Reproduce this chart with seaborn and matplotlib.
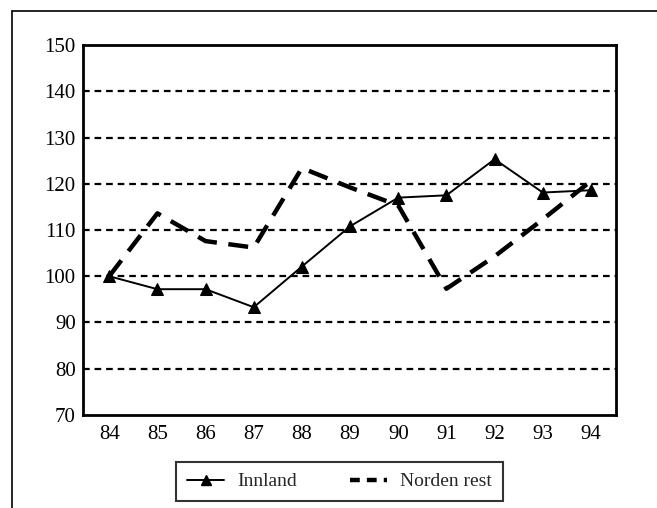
import pandas as pd
import seaborn as sns
import matplotlib.pyplot as plt
from matplotlib.lines import Line2D

# År og indeksverdier (1984 = 100)
years = [84, 85, 86, 87, 88, 89, 90, 91, 92, 93, 94]
innland = [100, 97.2, 97.2, 93.3, 102.1, 110.8, 117.0, 117.5, 125.3, 118.1, 118.6]
norden_rest = [100, 113.6, 107.6, 106.2, 123.4, 119.2, 115.3, 97.3, 104.3, 112.3, 120.6]
y_ticks = [70, 80, 90, 100, 110, 120, 130, 140, 150]

df_inn = pd.DataFrame({'year': years, 'value': innland})
df_nor = pd.DataFrame({'year': years, 'value': norden_rest})

sns.set_style('white')
plt.rcParams['font.family'] = ['Liberation Serif', 'DejaVu Serif']

fig = plt.figure(figsize=(6.57, 5.08), dpi=100)
ax = fig.add_axes([0.1259, 0.1831, 0.8117, 0.7283])

# Stiplede hjelpelinjer
for v in y_ticks[1:-1]:
    ax.axhline(v, color='black', lw=1.6, ls=(0, (3, 2.2)), zorder=1)

sns.lineplot(data=df_nor, x='year', y='value', ax=ax, color='black',
             lw=3.2, zorder=3, label='Norden rest')
ax.lines[-1].set_dashes((4.5, 2.6))
sns.lineplot(data=df_inn, x='year', y='value', ax=ax, color='black',
             lw=1.4, marker='^', markersize=9, markeredgecolor='black',
             zorder=4, label='Innland')

ax.set_xlim(83.45, 94.52)
ax.set_ylim(70, 150)
ax.set_xticks(years)
ax.set_xticklabels([str(y) for y in years])
ax.set_yticks(y_ticks)
ax.set_xlabel('')
ax.set_ylabel('')
ax.tick_params(axis='both', labelsize=15, length=5, width=1.5,
               direction='out', color='black', labelcolor='black')
ax.tick_params(axis='y', pad=0)
ax.tick_params(axis='x', pad=2)
for s in ax.spines.values():
    s.set_color('black')
    s.set_linewidth(2)

ax.get_legend().remove()
handles = [
    Line2D([], [], color='black', lw=1.4, marker='^', markersize=7),
    Line2D([], [], color='black', lw=3.2, dashes=(2.2, 1.6)),
]
leg = fig.legend(handles, ['Innland', 'Norden rest'], ncol=2,
                 loc='center', bbox_to_anchor=(0.517, 0.052),
                 fontsize=14, frameon=True, fancybox=False,
                 handlelength=1.9, handletextpad=0.7, columnspacing=2.7,
                 borderpad=0.55, borderaxespad=0)
leg.get_frame().set_edgecolor('black')
leg.get_frame().set_linewidth(1.5)

# Ytre ramme
fig.add_artist(Line2D([12 / 657, 12 / 657], [0, 1 - 11 / 508],
                      transform=fig.transFigure, color='black', lw=1.2))
fig.add_artist(Line2D([12 / 657, 1], [1 - 11 / 508, 1 - 11 / 508],
                      transform=fig.transFigure, color='black', lw=1.2))

fig.savefig('out.png', dpi=100)
